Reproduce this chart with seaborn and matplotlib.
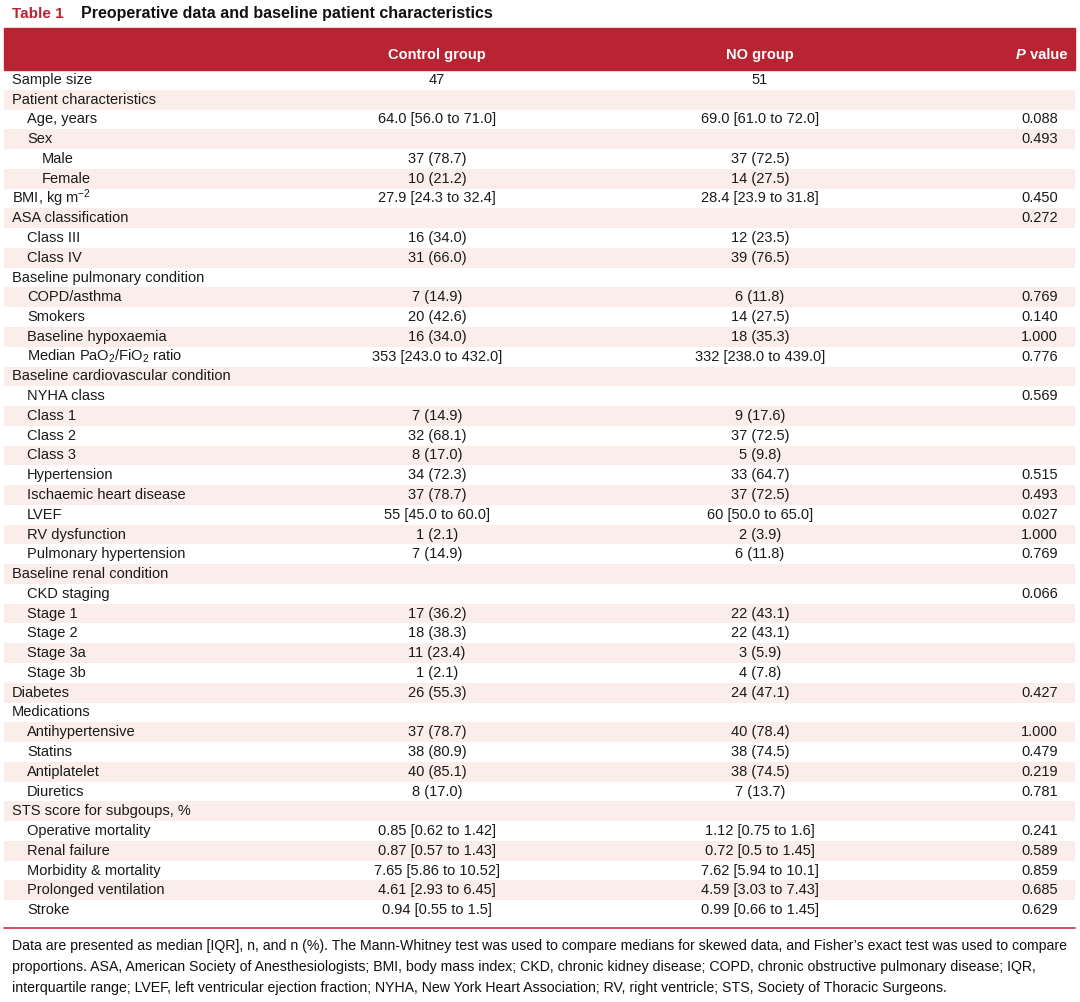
import numpy as np
import matplotlib
matplotlib.use("Agg")
import matplotlib.pyplot as plt
import seaborn as sns
from matplotlib.colors import ListedColormap
from matplotlib.text import Annotation
from matplotlib.transforms import blended_transform_factory

# Table content
labels = [
    "Sample size", "Patient characteristics", "Age, years", "Sex", "Male", "Female",
    "BMI, kg m$^{-2}$", "ASA classification", "Class III", "Class IV",
    "Baseline pulmonary condition", "COPD/asthma", "Smokers", "Baseline hypoxaemia",
    "Median PaO$_2$/FiO$_2$ ratio", "Baseline cardiovascular condition", "NYHA class",
    "Class 1", "Class 2", "Class 3", "Hypertension", "Ischaemic heart disease", "LVEF",
    "RV dysfunction", "Pulmonary hypertension", "Baseline renal condition", "CKD staging",
    "Stage 1", "Stage 2", "Stage 3a", "Stage 3b", "Diabetes", "Medications",
    "Antihypertensive", "Statins", "Antiplatelet", "Diuretics", "STS score for subgoups, %",
    "Operative mortality", "Renal failure", "Morbidity & mortality", "Prolonged ventilation",
    "Stroke",
]
indent = [0, 0, 1, 1, 2, 2, 0, 0, 1, 1, 0, 1, 1, 1, 1, 0, 1, 1, 1, 1, 1, 1, 1, 1, 1,
          0, 1, 1, 1, 1, 1, 0, 0, 1, 1, 1, 1, 0, 1, 1, 1, 1, 1]
control = [
    "47", "", "64.0 [56.0 to 71.0]", "", "37 (78.7)", "10 (21.2)", "27.9 [24.3 to 32.4]",
    "", "16 (34.0)", "31 (66.0)", "", "7 (14.9)", "20 (42.6)", "16 (34.0)",
    "353 [243.0 to 432.0]", "", "", "7 (14.9)", "32 (68.1)", "8 (17.0)", "34 (72.3)",
    "37 (78.7)", "55 [45.0 to 60.0]", "1 (2.1)", "7 (14.9)", "", "", "17 (36.2)",
    "18 (38.3)", "11 (23.4)", "1 (2.1)", "26 (55.3)", "", "37 (78.7)", "38 (80.9)",
    "40 (85.1)", "8 (17.0)", "", "0.85 [0.62 to 1.42]", "0.87 [0.57 to 1.43]",
    "7.65 [5.86 to 10.52]", "4.61 [2.93 to 6.45]", "0.94 [0.55 to 1.5]",
]
no_group = [
    "51", "", "69.0 [61.0 to 72.0]", "", "37 (72.5)", "14 (27.5)", "28.4 [23.9 to 31.8]",
    "", "12 (23.5)", "39 (76.5)", "", "6 (11.8)", "14 (27.5)", "18 (35.3)",
    "332 [238.0 to 439.0]", "", "", "9 (17.6)", "37 (72.5)", "5 (9.8)", "33 (64.7)",
    "37 (72.5)", "60 [50.0 to 65.0]", "2 (3.9)", "6 (11.8)", "", "", "22 (43.1)",
    "22 (43.1)", "3 (5.9)", "4 (7.8)", "24 (47.1)", "", "40 (78.4)", "38 (74.5)",
    "38 (74.5)", "7 (13.7)", "", "1.12 [0.75 to 1.6]", "0.72 [0.5 to 1.45]",
    "7.62 [5.94 to 10.1]", "4.59 [3.03 to 7.43]", "0.99 [0.66 to 1.45]",
]
p_values = [
    "", "", "0.088", "0.493", "", "", "0.450", "0.272", "", "", "", "0.769", "0.140",
    "1.000", "0.776", "", "0.569", "", "", "", "0.515", "0.493", "0.027", "1.000",
    "0.769", "", "0.066", "", "", "", "", "0.427", "", "1.000", "0.479", "0.219",
    "0.781", "", "0.241", "0.589", "0.859", "0.685", "0.629",
]
footnote = [
    "Data are presented as median [IQR], n, and n (%). The Mann-Whitney test was used to compare medians for skewed data, and Fisher\u2019s exact test was used to compare",
    "proportions. ASA, American Society of Anesthesiologists; BMI, body mass index; CKD, chronic kidney disease; COPD, chronic obstructive pulmonary disease; IQR,",
    "interquartile range; LVEF, left ventricular ejection fraction; NYHA, New York Heart Association; RV, right ventricle; STS, Society of Thoracic Surgeons.",
]

RED = "#B92432"
PINK = "#FBEEEA"
W, H = 1080, 1002

sns.set_style("white")
plt.rcParams['font.family'] = ['Liberation Sans', 'DejaVu Sans']
plt.rcParams['mathtext.fontset'] = 'custom'
plt.rcParams['mathtext.rm'] = 'Liberation Sans'
plt.rcParams['mathtext.it'] = 'Liberation Sans:italic'
plt.rcParams['mathtext.bf'] = 'Liberation Sans:bold'

fig = plt.figure(figsize=(W / 100, H / 100), dpi=100)

# table body: striped rows drawn as a one-column heatmap
top, bottom, left, right = 70, 920, 4, 1075
ax = fig.add_axes([left / W, 1 - bottom / H, (right - left) / W, (bottom - top) / H])
n = len(labels)
stripes = (np.arange(n) % 2).reshape(-1, 1)
sns.heatmap(stripes, ax=ax, cmap=ListedColormap(["white", PINK]), cbar=False,
            xticklabels=False, yticklabels=False, linewidths=0)
ax.set_axis_off()

tr = blended_transform_factory(fig.transFigure, ax.transData)
fs = 10.5
txt = "#1a1a1a"
indent_x = [12, 27, 42]
for i in range(n):
    y = i + 0.5
    ax.text(indent_x[indent[i]] / W, y, labels[i], transform=tr, fontsize=fs,
            ha="left", va="center", color=txt)
    ax.text(437 / W, y, control[i], transform=tr, fontsize=fs, ha="center", va="center", color=txt)
    ax.text(760 / W, y, no_group[i], transform=tr, fontsize=fs, ha="center", va="center", color=txt)
    ax.text(1058 / W, y, p_values[i], transform=tr, fontsize=fs, ha="right", va="center", color=txt)

# header band
fig.patches.append(plt.Rectangle((left / W, 1 - 70 / H), (right - left) / W, 42 / H,
                                 transform=fig.transFigure, color=RED, zorder=0))
hy = 1 - 59 / H
fig.text(437 / W, hy, "Control group", fontsize=fs, fontweight="bold", color="white",
         ha="center", va="baseline")
fig.text(760 / W, hy, "NO group", fontsize=fs, fontweight="bold", color="white",
         ha="center", va="baseline")
tv = fig.text(1067 / W, hy, " value", fontsize=fs, fontweight="bold", color="white",
              ha="right", va="baseline")
fig.add_artist(Annotation("P", xy=(0, 0), xycoords=tv, fontsize=fs, fontweight="bold",
                          fontstyle="italic", color="white", ha="right", va="bottom",
                          annotation_clip=False, zorder=5))

# title
ty = 1 - 18 / H
fig.text(12 / W, ty, "Table 1", fontsize=11, fontweight="bold", color=RED, ha="left", va="baseline")
fig.text(81 / W, ty, "Preoperative data and baseline patient characteristics", fontsize=11.5,
         fontweight="bold", color="#111111", ha="left", va="baseline")

# bottom rule
fig.add_artist(plt.Line2D([left / W, right / W], [1 - 928 / H, 1 - 928 / H],
                          color="#D0424E", lw=1.3))

# footnote
for k, line in enumerate(footnote):
    fig.text(12 / W, 1 - (950 + 21 * k) / H, line, fontsize=10.15, color="#111111",
             ha="left", va="baseline")

fig.savefig("out.png", dpi=100)
